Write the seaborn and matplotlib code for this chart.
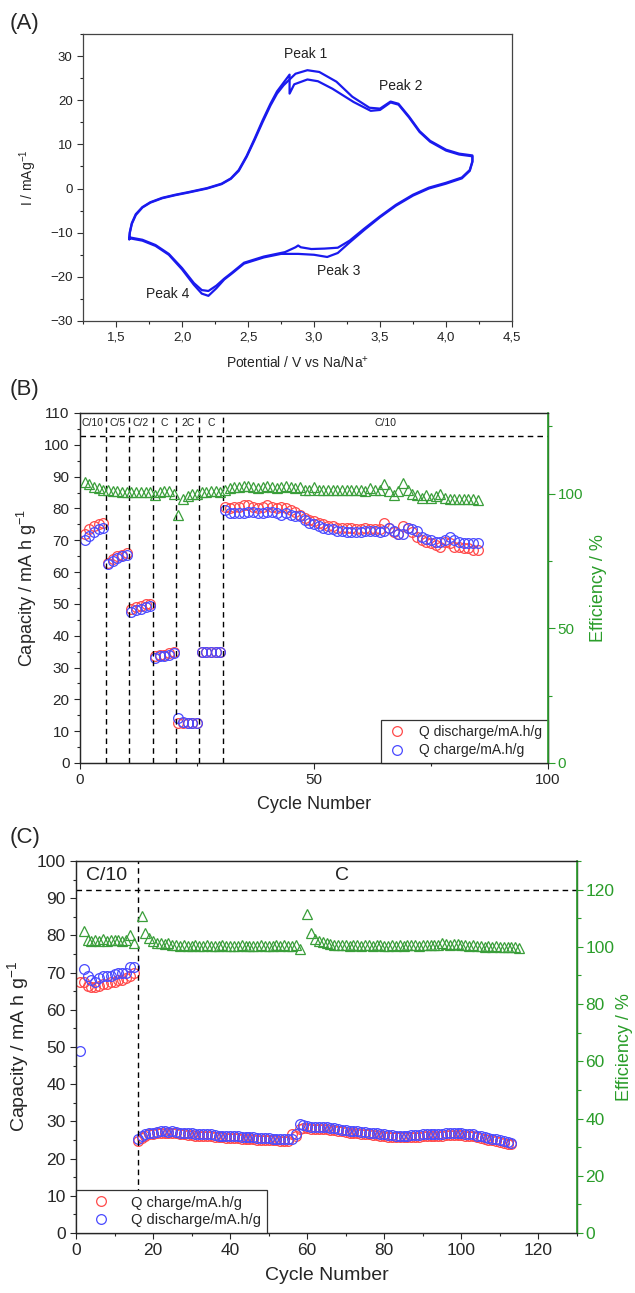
import numpy as np
import pandas as pd
import matplotlib
matplotlib.use("Agg")
import matplotlib.pyplot as plt
import seaborn as sns
from matplotlib.ticker import MultipleLocator

# ---------------- DATA ----------------
# Panel A: cyclic voltammetry, two cycles (potential V, current mA/g)
cv1_E = [1.60, 1.605, 1.62, 1.65, 1.70, 1.76, 1.85, 1.95, 2.05, 2.19, 2.30, 2.37, 2.43, 2.49, 2.55, 2.61, 2.67, 2.72, 2.77,
         2.86, 2.95, 3.04, 3.17, 3.29, 3.42, 3.50, 3.58, 3.64, 3.72, 3.80, 3.88, 4.00, 4.10, 4.20,
         4.20, 4.18, 4.12, 4.00, 3.87, 3.75, 3.62, 3.50, 3.38, 3.27, 3.18, 3.10, 3.00, 2.88, 2.75,
         2.62, 2.47, 2.38, 2.32, 2.26, 2.20, 2.15, 2.09, 2.00, 1.90, 1.80, 1.70, 1.61, 1.60]
cv1_I = [-11.5, -10.0, -8.0, -6.0, -4.3, -3.2, -2.2, -1.5, -0.9, 0.0, 1.0, 2.2, 4.0, 7.2, 11.0, 15.0, 18.8, 21.5, 23.4,
         26.0, 26.8, 26.4, 24.2, 20.8, 18.3, 18.1, 19.7, 19.2, 16.3, 13.0, 10.8, 8.8, 7.9, 7.5,
         6.0, 4.0, 2.3, 1.1, 0.0, -1.6, -3.9, -6.5, -9.4, -12.2, -14.6, -15.5, -15.0, -14.8, -14.8,
         -15.6, -17.0, -19.2, -20.6, -22.6, -24.3, -23.8, -21.8, -18.3, -15.0, -13.0, -11.8, -11.3, -11.5]
cv2_E = [1.60, 1.605, 1.62, 1.65, 1.70, 1.76, 1.85, 1.95, 2.05, 2.19, 2.30, 2.37, 2.43, 2.49, 2.55, 2.61, 2.67, 2.72, 2.76,
         2.815, 2.815, 2.85, 2.95, 3.03, 3.14, 3.30, 3.43, 3.50, 3.58, 3.64, 3.72, 3.80, 3.88, 4.00, 4.10, 4.20,
         4.20, 4.18, 4.12, 4.00, 3.87, 3.75, 3.62, 3.50, 3.38, 3.27, 3.18, 3.08, 2.98, 2.90, 2.88, 2.86, 2.78,
         2.62, 2.47, 2.38, 2.32, 2.26, 2.20, 2.15, 2.09, 2.00, 1.90, 1.80, 1.70, 1.61, 1.60]
cv2_I = [-11.2, -9.8, -7.8, -5.8, -4.2, -3.1, -2.1, -1.4, -0.8, 0.1, 1.1, 2.3, 4.2, 7.4, 11.3, 15.4, 19.2, 22.0, 23.6,
         25.8, 21.5, 23.6, 24.7, 24.3, 22.6, 19.6, 17.6, 17.8, 19.5, 19.0, 16.1, 12.8, 10.6, 8.6, 7.7, 7.3,
         6.2, 4.2, 2.5, 1.3, 0.2, -1.4, -3.7, -6.3, -9.1, -11.8, -13.4, -13.6, -13.7, -13.3, -12.9, -13.3, -14.4,
         -15.4, -16.8, -19.0, -20.4, -22.0, -23.2, -23.0, -21.4, -18.0, -14.8, -12.8, -11.6, -11.1, -11.2]
peak_names = ["Peak 1", "Peak 2", "Peak 3", "Peak 4"]
peak_E = [2.94, 3.66, 3.19, 1.89]
peak_I = [30.4, 23.2, -18.6, -23.8]
A_xticks = [1.5, 2.0, 2.5, 3.0, 3.5, 4.0, 4.5]
A_xticklabels = ["1,5", "2,0", "2,5", "3,0", "3,5", "4,0", "4,5"]

# Panel B: rate test
B_cycles = list(range(1, 86))
B_discharge = [72, 73.5, 74.5, 75, 75.5,
               63, 64, 65, 65.5, 66,
               48.5, 49, 49.5, 50, 50,
               33.5, 34, 34, 34.5, 35,
               12.5, 12.5, 12.5, 12.5, 12.5,
               35, 35, 35, 35, 35,
               80.5, 80, 80.5, 80.5, 81, 81, 80.5, 80, 80.5, 81, 80.5, 80, 80.5, 80, 79.5,
               79, 78, 77, 76.5, 76, 75.5, 75, 74.5, 74.5, 74, 74, 74, 74, 73.5, 73.5,
               74, 73.5, 73.5, 73.5, 75.5, 74, 72.5, 72, 74.5, 74, 72.5, 71, 70, 69.5, 69,
               68.5, 68, 69.5, 69, 68, 68, 67.5, 67.5, 67, 67]
B_charge = [70, 71.5, 72.5, 73.5, 74,
            62.5, 63.5, 64.5, 65, 65.5,
            47.5, 48, 48.5, 49, 49.5,
            33, 33.5, 33.5, 34, 34.5,
            14, 13, 12.5, 12.5, 12.5,
            35, 35, 35, 35, 35,
            79.5, 78.5, 78.5, 78.5, 78.5, 79, 79, 78.5, 78.5, 79, 79, 78.5, 78, 78.5, 78,
            77.5, 77.5, 76.5, 75.5, 75, 74.5, 74, 73.5, 73.5, 73, 73, 72.5, 72.5, 72.5, 72.5,
            73, 73, 73, 72.5, 73, 74, 73, 72, 72, 74, 73.5, 73, 71, 70.5, 70,
            69.5, 69.5, 70, 71, 70, 69.5, 69, 69, 69, 69]
B_eff = [104.5, 103.5, 102.5, 102, 101.5,
         101.5, 101, 101, 100.5, 100.5,
         100.5, 100.5, 100.5, 100.5, 100.5,
         99.5, 100.5, 101, 101, 100,
         92, 98, 99, 100, 100,
         100.5, 100.5, 101, 101, 100.5,
         101.5, 102, 102.5, 102.5, 103, 103, 102.5, 102, 102.5, 103, 102.5, 102, 102.5, 103, 102.5,
         102, 102.5, 101.5, 101.5, 102.5, 101.5, 101.5, 101.5, 101.5, 101.5, 101.5, 101.5, 101.5, 101.5, 101.5,
         101, 102, 101.5, 101.5, 103.5, 101, 99.5, 101, 104, 101.5, 100, 99.5, 98.5, 99.5, 98.5,
         99, 100, 98.5, 98, 98, 98, 98, 98, 98, 97.5]
B_bounds = [5.5, 10.5, 15.5, 20.5, 25.5, 30.5]
B_rate_labels = ["C/10", "C/5", "C/2", "C", "2C", "C", "C/10"]
B_rate_x = [2.75, 8, 13, 18, 23, 28, 65.25]

# Panel C: long cycling
C_cycles = list(range(1, 114))
C_charge = [67.5, 67.5, 66.5, 66, 66, 66.5, 67, 67, 67.5, 67.5, 68, 68, 68.5, 69, 70,
            24.8, 25.6, 26.1, 26.5, 26.6, 26.8, 26.9, 26.9, 26.8, 27.0, 26.8, 26.6, 26.5, 26.4, 26.3,
            26.2, 26.2, 26.1, 26.0, 26.0, 25.9, 25.8, 25.7, 25.6, 25.5, 25.5, 25.5, 25.4, 25.3, 25.3,
            25.2, 25.1, 25.0, 25.0, 25.0, 24.9, 24.9, 24.8, 24.8, 24.8, 26.5, 26.0, 28.0, 28.2, 28.1,
            28.0, 28.0, 28.0, 27.9, 27.9, 27.8, 27.6, 27.5, 27.3, 27.1, 27.0, 26.9, 26.8, 26.7, 26.6,
            26.5, 26.4, 26.3, 26.1, 26.0, 25.9, 25.8, 25.7, 25.7, 25.7, 25.7, 25.8, 25.8, 25.9, 26.0,
            26.0, 26.0, 26.1, 26.1, 26.2, 26.3, 26.3, 26.3, 26.3, 26.3, 26.2, 26.2, 26.0, 25.7, 25.5,
            25.3, 25.1, 24.9, 24.7, 24.5, 24.3, 24.0, 23.8]
C_discharge = [49, 71, 69, 68, 67.5, 68.5, 69, 69, 69, 69.5, 70, 70, 70, 71.5, 71.5,
               25.2, 26, 26.5, 27, 27, 27.2, 27.3, 27.3, 27.2, 27.5, 27.2, 27, 27, 26.9, 26.8,
               26.7, 26.7, 26.6, 26.5, 26.5, 26.4, 26.2, 26.2, 26.1, 26, 26, 26, 25.9, 25.8, 25.8,
               25.7, 25.6, 25.5, 25.5, 25.5, 25.4, 25.4, 25.3, 25.3, 25.2, 25.3, 26.5, 29.2, 28.9, 28.7,
               28.5, 28.5, 28.5, 28.4, 28.4, 28.3, 28.1, 28, 27.8, 27.6, 27.5, 27.4, 27.3, 27.2, 27.1,
               27, 26.9, 26.8, 26.6, 26.5, 26.4, 26.3, 26.2, 26.2, 26.2, 26.2, 26.3, 26.3, 26.4, 26.5,
               26.5, 26.5, 26.6, 26.6, 26.7, 26.8, 26.8, 26.8, 26.8, 26.8, 26.7, 26.7, 26.5, 26.2, 26,
               25.8, 25.6, 25.4, 25.2, 25, 24.8, 24.5, 24.3]
C_eff_cycles = list(range(2, 16)) + list(range(17, 59)) + list(range(60, 116))
C_eff = [105.5, 102.5, 102.0, 102.3, 102.0, 102.6, 102.2, 102.4, 102.3, 102.5, 102.0, 102.4, 104.0, 101.4,
         110.7, 104.7, 103.0, 102.0, 101.5, 101.2, 101.0, 101.2, 100.8, 100.5, 100.3, 100.6, 100.4, 100.3,
         100.5, 100.3, 100.4, 100.6, 100.3, 100.2, 100.4, 100.5, 100.3, 100.2, 100.4, 100.3, 100.5, 100.3,
         100.2, 100.4, 100.3, 100.5, 100.3, 100.2, 100.4, 100.6, 100.3, 100.5, 100.4, 100.3, 100.8, 99.2,
         111.6, 104.9, 102.9, 101.9, 101.6, 101.4, 101.0, 100.7, 100.6, 100.5, 100.6, 100.4, 100.5, 100.6,
         100.4, 100.5, 100.6, 100.4, 100.7, 100.5, 100.2, 100.3, 100.6, 100.4, 100.5, 100.3, 100.6, 100.5,
         100.7, 100.4, 100.5, 100.6, 100.8, 100.5, 100.6, 101.2, 101.0, 100.8, 101.1, 100.9, 100.6, 100.5,
         100.3, 100.6, 100.2, 100.4, 100.1, 100.3, 100.0, 100.2, 99.9, 100.0, 100.1, 100.1, 99.8, 99.6]
C_rate_labels = ["C/10", "C"]
C_rate_x = [8, 69]

# ---------------- STYLE ----------------
sns.set_style("ticks")
plt.rcParams["font.family"] = ["Liberation Sans", "DejaVu Sans"]
plt.rcParams["mathtext.default"] = "regular"
plt.rcParams["xtick.direction"] = "out"
plt.rcParams["ytick.direction"] = "out"

RED = "#ff4a4a"
BLUE = "#4a4aff"
GREEN = "#3a9e3a"
AXGREEN = "#2a9d2a"
CVBLUE = "#1a1aee"

W, H = 635, 1293
fig = plt.figure(figsize=(W / 100, H / 100), dpi=100)

def axes_px(l, t, r, b):
    return fig.add_axes([l / W, 1 - b / H, (r - l) / W, (b - t) / H])

def open_markers(ax, x, y, color, marker, label, ms=7.0):
    sns.lineplot(x=x, y=y, ax=ax, marker=marker, linestyle="none", markersize=ms,
                 markerfacecolor="none", markeredgecolor=color, markeredgewidth=0.9,
                 color=color, estimator=None, sort=False, label=label)

# ---------------- PANEL A ----------------
axA = axes_px(83, 34, 512, 321)
sns.lineplot(x=cv1_E, y=cv1_I, ax=axA, sort=False, estimator=None, color=CVBLUE, lw=1.6)
sns.lineplot(x=cv2_E, y=cv2_I, ax=axA, sort=False, estimator=None, color=CVBLUE, lw=1.6)
axA.set_xlim(1.25, 4.5)
axA.set_ylim(-30, 35)
axA.set_xticks(A_xticks)
axA.set_xticklabels(A_xticklabels)
axA.set_yticks([-30, -20, -10, 0, 10, 20, 30])
axA.xaxis.set_minor_locator(MultipleLocator(0.25))
axA.yaxis.set_minor_locator(MultipleLocator(5))
axA.tick_params(labelsize=9.5, length=4, width=0.8, colors="#333333", labelcolor="#222222")
axA.tick_params(which="minor", length=2, width=0.8)
for s in axA.spines.values():
    s.set_linewidth(0.9)
    s.set_color("#444444")
for name, e, i in zip(peak_names, peak_E, peak_I):
    axA.text(e, i, name, ha="center", va="center", fontsize=10, color="#222222")
axA.set_xlabel("Potential / V vs Na/Na$^{+}$", fontsize=10, labelpad=8)
axA.set_ylabel("I / mAg$^{-1}$", fontsize=10, labelpad=8)
fig.text(10 / W, 1 - 23 / H, "(A)", fontsize=16, va="center", ha="left")

# ---------------- PANEL B ----------------
axB = axes_px(80, 413, 548, 763)
axB2 = axB.twinx()
open_markers(axB, B_cycles, B_discharge, RED, "o", "Q discharge/mA.h/g")
open_markers(axB, B_cycles, B_charge, BLUE, "o", "Q charge/mA.h/g")
open_markers(axB2, B_cycles, B_eff, GREEN, "^", None)
for xb in B_bounds:
    axB.axvline(xb, color="black", lw=1.0, ls=(0, (4, 3)))
axB.axhline(102.8, color="black", lw=1.0, ls=(0, (4, 3)))
for lab, xl in zip(B_rate_labels, B_rate_x):
    axB.text(xl, 106.9, lab, ha="center", va="center", fontsize=7.5, color="#222222")
axB.set_xlim(0, 100)
axB.set_ylim(0, 110)
axB2.set_ylim(0, 130)
axB.set_xticks([0, 50, 100])
axB.xaxis.set_minor_locator(MultipleLocator(25))
axB.set_yticks(list(range(0, 111, 10)))
axB.yaxis.set_minor_locator(MultipleLocator(5))
axB2.set_yticks([0, 50, 100])
axB2.yaxis.set_minor_locator(MultipleLocator(25))
axB.tick_params(labelsize=11, length=4, width=0.8)
axB.tick_params(which="minor", length=2.5, width=0.8)
axB2.tick_params(axis="y", colors=AXGREEN, labelsize=11, length=5, width=0.8, pad=2)
axB2.tick_params(which="minor", axis="y", colors=AXGREEN, length=3, width=0.8)
for s in axB.spines.values():
    s.set_linewidth(1.0)
    s.set_color("#333333")
axB2.spines["right"].set_color(AXGREEN)
axB2.spines["right"].set_linewidth(1.2)
axB.set_xlabel("Cycle Number", fontsize=13, labelpad=6)
axB.set_ylabel("Capacity / mA h g$^{-1}$", fontsize=13, labelpad=4)
axB2.set_ylabel("Efficiency / %", fontsize=13, color=AXGREEN, labelpad=5)
legB = axB.legend(loc="lower right", fontsize=10, frameon=True, fancybox=False,
                  borderaxespad=0, framealpha=1, edgecolor="#333333",
                  handletextpad=0.8, borderpad=0.4, labelspacing=0.3, handlelength=1.6)
legB.get_frame().set_linewidth(0.9)
fig.text(10 / W, 1 - 390 / H, "(B)", fontsize=16, va="center", ha="left")

# ---------------- PANEL C ----------------
axC = axes_px(76, 861, 577, 1233)
axC2 = axC.twinx()
open_markers(axC, C_cycles, C_charge, RED, "o", "Q charge/mA.h/g")
open_markers(axC, C_cycles, C_discharge, BLUE, "o", "Q discharge/mA.h/g")
open_markers(axC2, C_eff_cycles, C_eff, GREEN, "^", None)
axC.axvline(16, ymax=1.0, color="black", lw=1.0, ls=(0, (4, 3)))
axC2.axhline(120, color="black", lw=1.0, ls=(0, (4, 3)))
for lab, xl in zip(C_rate_labels, C_rate_x):
    axC.text(xl, 96.2, lab, ha="center", va="center", fontsize=14, color="#222222")
axC.set_xlim(0, 130)
axC.set_ylim(0, 100)
axC2.set_ylim(0, 130)
axC.set_xticks(list(range(0, 121, 20)))
axC.xaxis.set_minor_locator(MultipleLocator(10))
axC.set_yticks(list(range(0, 101, 10)))
axC.yaxis.set_minor_locator(MultipleLocator(5))
axC2.set_yticks(list(range(0, 121, 20)))
axC2.yaxis.set_minor_locator(MultipleLocator(10))
axC.tick_params(labelsize=12.5, length=4, width=0.8)
axC.tick_params(which="minor", length=2.5, width=0.8)
axC2.tick_params(axis="y", colors=AXGREEN, labelsize=12.5, length=4, width=0.8, pad=2)
axC2.tick_params(which="minor", axis="y", colors=AXGREEN, length=3, width=0.8)
for s in axC.spines.values():
    s.set_linewidth(1.0)
    s.set_color("#333333")
axC2.spines["right"].set_color(AXGREEN)
axC2.spines["right"].set_linewidth(1.2)
axC.set_xlabel("Cycle Number", fontsize=14, labelpad=6)
axC.set_ylabel("Capacity / mA h g$^{-1}$", fontsize=14, labelpad=4)
axC2.set_ylabel("Efficiency / %", fontsize=13, color=AXGREEN, labelpad=1)
legC = axC.legend(loc="lower left", fontsize=10.5, frameon=True, fancybox=False,
                  borderaxespad=0, framealpha=1, edgecolor="#333333",
                  handletextpad=0.8, borderpad=0.4, labelspacing=0.25, handlelength=2.6)
legC.get_frame().set_linewidth(0.9)
fig.text(10 / W, 1 - 838 / H, "(C)", fontsize=16, va="center", ha="left")

fig.savefig("out.png", dpi=100)
